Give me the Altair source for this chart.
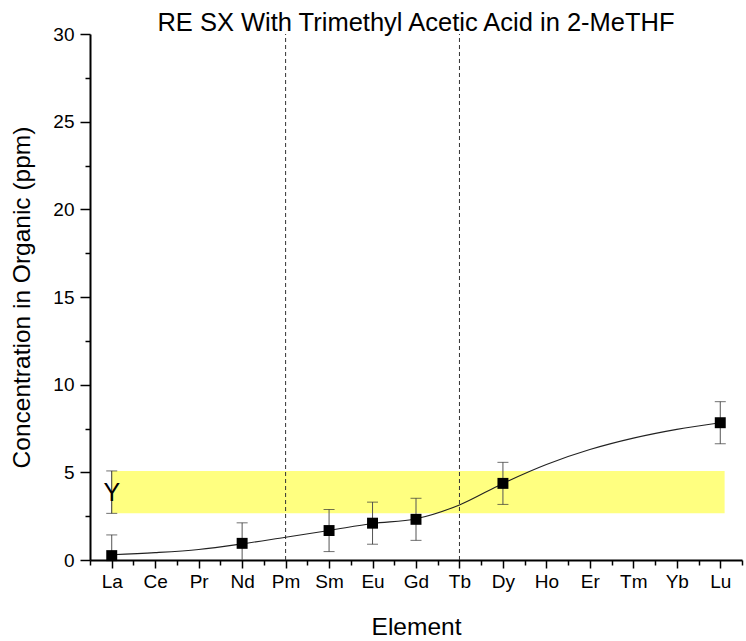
import altair as alt
import pandas as pd

# ---- data ----
elements = ["La", "Ce", "Pr", "Nd", "Pm", "Sm", "Eu", "Gd", "Tb", "Dy",
            "Ho", "Er", "Tm", "Yb", "Lu"]
pt_elements = ["La", "Nd", "Sm", "Eu", "Gd", "Dy", "Lu"]
pt_values = [0.25, 0.95, 1.68, 2.10, 2.32, 4.37, 7.83]
pt_errors = [1.18, 1.17, 1.20, 1.20, 1.20, 1.20, 1.20]
fit_values = [0.30, 0.42, 0.60, 0.92, 1.30, 1.68, 2.08, 2.35, 3.14, 4.37,
              5.45, 6.30, 6.95, 7.45, 7.83]
y_label = "Y"
y_element = "La"
y_value = 3.87
y_error = 1.21
band_end = 15.1
divider_elements = ["Pm", "Tb"]
y_ticks = [0, 5, 10, 15, 20, 25, 30]
y_minor = [2.5, 7.5, 12.5, 17.5, 22.5, 27.5]

pos = {e: i + 1 for i, e in enumerate(elements)}

pts = pd.DataFrame({
    "x": [pos[e] for e in pt_elements],
    "y": pt_values,
    "lo": [v - e for v, e in zip(pt_values, pt_errors)],
    "hi": [v + e for v, e in zip(pt_values, pt_errors)],
})
fit = pd.DataFrame({"x": list(range(1, len(elements) + 1)), "y": fit_values})
ydf = pd.DataFrame({"x": [pos[y_element]], "y": [y_value], "t": [y_label],
                    "lo": [y_value - y_error], "hi": [y_value + y_error],
                    "x2": [band_end]})
divs = pd.DataFrame({"x": [pos[e] for e in divider_elements],
                     "y": [y_ticks[0]] * len(divider_elements),
                     "y2": [y_ticks[-1]] * len(divider_elements)})
minor_x = pd.DataFrame({"x": [i + 0.5 for i in range(len(elements) + 1)]})

FONT = "Liberation Sans"
xdom = [0.5, len(elements) + 0.5]
ydom = [y_ticks[0], y_ticks[-1]]
xs = alt.Scale(domain=xdom, nice=False, zero=False)
ys = alt.Scale(domain=ydom, nice=False, zero=False)

label_arr = "[" + ",".join("'%s'" % e for e in elements) + "]"
x_axis = alt.Axis(values=list(range(1, len(elements) + 1)),
                  labelExpr=label_arr + "[datum.value - 1]",
                  title="Element", tickSize=8, labelPadding=4,
                  titlePadding=24)
y_axis = alt.Axis(values=y_ticks, title="Concentration in Organic (ppm)",
                  tickSize=10, labelPadding=6, titlePadding=18)

band = alt.Chart(ydf).mark_rect(color="#FFFF80").encode(
    x=alt.X("x:Q", scale=xs, axis=x_axis),
    x2="x2:Q",
    y=alt.Y("lo:Q", scale=ys, axis=y_axis),
    y2="hi:Q",
)

dividers = alt.Chart(divs).mark_rule(color="#333333", strokeWidth=1,
                                     strokeDash=[4, 3]).encode(
    x=alt.X("x:Q", scale=xs), y=alt.Y("y:Q", scale=ys), y2="y2:Q")

curve = alt.Chart(fit).mark_line(color="#222222", strokeWidth=1.1,
                                 interpolate="monotone").encode(
    x=alt.X("x:Q", scale=xs), y=alt.Y("y:Q", scale=ys))

err_color = "#555555"
bars = alt.Chart(pts).mark_rule(color=err_color, strokeWidth=1, clip=True).encode(
    x=alt.X("x:Q", scale=xs), y=alt.Y("lo:Q", scale=ys), y2="hi:Q")
caps_hi = alt.Chart(pts).mark_tick(color="#333333", orient="horizontal",
                                   size=11, thickness=1).encode(
    x=alt.X("x:Q", scale=xs), y=alt.Y("hi:Q", scale=ys))
caps_lo = alt.Chart(pts).transform_filter("datum.lo >= 0").mark_tick(
    color="#333333", orient="horizontal", size=11, thickness=1).encode(
    x=alt.X("x:Q", scale=xs), y=alt.Y("lo:Q", scale=ys))

ybar = alt.Chart(ydf).mark_rule(color="#333333", strokeWidth=1).encode(
    x=alt.X("x:Q", scale=xs), y=alt.Y("lo:Q", scale=ys), y2="hi:Q")
ycap_hi = alt.Chart(ydf).mark_tick(color="#333333", orient="horizontal",
                                   size=11, thickness=1).encode(
    x=alt.X("x:Q", scale=xs), y=alt.Y("hi:Q", scale=ys))
ycap_lo = alt.Chart(ydf).mark_tick(color="#333333", orient="horizontal",
                                   size=11, thickness=1).encode(
    x=alt.X("x:Q", scale=xs), y=alt.Y("lo:Q", scale=ys))
ytext = alt.Chart(ydf).mark_text(font=FONT, fontSize=25, color="black",
                                 baseline="middle", align="center", dy=1).encode(
    x=alt.X("x:Q", scale=xs), y=alt.Y("y:Q", scale=ys), text="t:N")

squares = alt.Chart(pts).mark_square(size=120, color="black", opacity=1).encode(
    x=alt.X("x:Q", scale=xs), y=alt.Y("y:Q", scale=ys))

main = alt.layer(band, dividers, curve, bars, caps_hi, caps_lo,
                 ybar, ycap_hi, ycap_lo, ytext, squares)

minor_x_layer = alt.Chart(minor_x).mark_point(opacity=0).encode(
    x=alt.X("x:Q", scale=alt.Scale(domain=xdom, nice=False, zero=False),
            axis=alt.Axis(values=minor_x["x"].tolist(), labels=False,
                          domain=False, tickSize=5, title="",
                          orient="bottom")),
)
minor_y_layer = alt.Chart(pd.DataFrame({"y": y_minor})).mark_point(opacity=0).encode(
    y=alt.Y("y:Q", scale=alt.Scale(domain=ydom, nice=False, zero=False),
            axis=alt.Axis(values=y_minor, labels=False, domain=False,
                          tickSize=5, title="", orient="left")),
)

chart = alt.layer(main, minor_x_layer, minor_y_layer).resolve_scale(
    x="independent", y="independent"
).properties(
    width=652, height=526,
    background="white",
    title=alt.TitleParams("RE SX With Trimethyl Acetic Acid in 2-MeTHF",
                          font=FONT, fontSize=25.5, fontWeight="normal",
                          color="black", anchor="middle", offset=2,
                          baseline="alphabetic", dy=33),
    autosize=alt.AutoSizeParams(type="none"),
    padding={"left": 90, "top": 34, "right": 4, "bottom": 81},
).configure_view(stroke=None).configure_axis(
    grid=False, domainColor="black", domainWidth=2, tickColor="black",
    tickWidth=1.5, labelFont=FONT, labelFontSize=19, labelColor="black",
    titleFont=FONT, titleFontSize=24.5, titleFontWeight="normal",
    titleColor="black",
)

chart.save("out.html", embed_options={"renderer": "svg", "actions": False})
